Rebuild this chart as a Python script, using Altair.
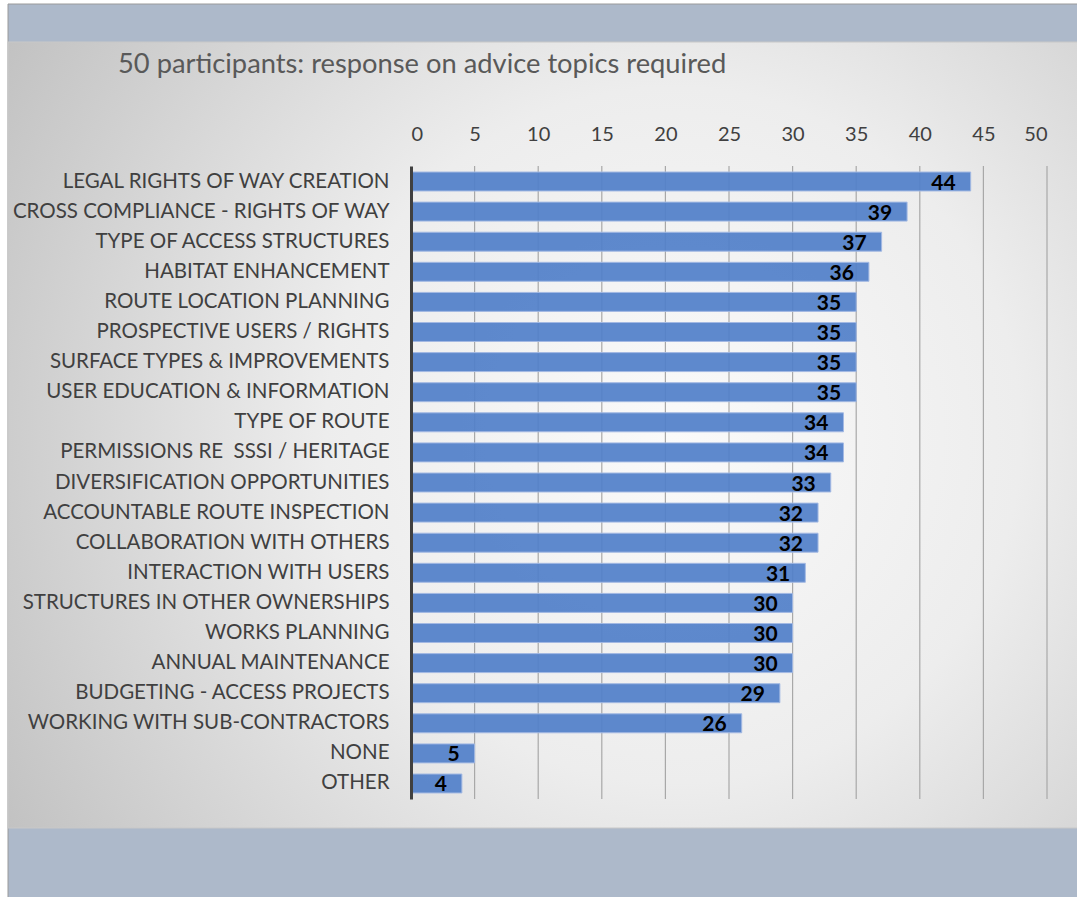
import altair as alt
import pandas as pd

categories = [
    "LEGAL RIGHTS OF WAY CREATION",
    "CROSS COMPLIANCE - RIGHTS OF WAY",
    "TYPE OF ACCESS STRUCTURES",
    "HABITAT ENHANCEMENT",
    "ROUTE LOCATION PLANNING",
    "PROSPECTIVE USERS / RIGHTS",
    "SURFACE TYPES & IMPROVEMENTS",
    "USER EDUCATION & INFORMATION",
    "TYPE OF ROUTE",
    "PERMISSIONS RE\u00a0 SSSI / HERITAGE\u00a0",
    "DIVERSIFICATION OPPORTUNITIES",
    "ACCOUNTABLE ROUTE INSPECTION",
    "COLLABORATION WITH OTHERS",
    "INTERACTION WITH USERS",
    "STRUCTURES IN OTHER OWNERSHIPS",
    "WORKS PLANNING",
    "ANNUAL MAINTENANCE",
    "BUDGETING - ACCESS PROJECTS",
    "WORKING WITH SUB-CONTRACTORS",
    "NONE",
    "OTHER",
]
values = [44, 39, 37, 36, 35, 35, 35, 35, 34, 34, 33, 32, 32, 31, 30, 30, 30, 29, 26, 5, 4]
x_ticks = [0, 5, 10, 15, 20, 25, 30, 35, 40, 45, 50]
title_text = "50 participants: response on advice topics required"

df = pd.DataFrame({"topic": categories, "count": values})
grid_df = pd.DataFrame({"tick": x_ticks[1:]})
one = pd.DataFrame({"a": [0]})

FONT = "Lato"
XSCALE = alt.Scale(domain=[0, 50], nice=False)

band = alt.Chart(one).mark_rect(color="#ADB9CA", stroke="#9A9A9A", strokeWidth=1).encode(
    x=alt.value(-403), x2=alt.value(670), y=alt.value(-162), y2=alt.value(735)
)

grad = alt.Chart(one).mark_rect(
    fill={
        "gradient": "radial",
        "x1": 0.62, "y1": 0.5, "r1": 0,
        "x2": 0.62, "y2": 0.5, "r2": 0.72,
        "stops": [
            {"offset": 0, "color": "#FAFAFA"},
            {"offset": 0.45, "color": "#EDEDED"},
            {"offset": 1, "color": "#C2C2C2"},
        ],
    },
    stroke="#C8C8C8",
    strokeWidth=1,
).encode(x=alt.value(-403), x2=alt.value(670), y=alt.value(-124), y2=alt.value(662))

title = alt.Chart(one).mark_text(
    text=title_text, align="left", baseline="middle",
    font=FONT, fontSize=27.3, color="#595959",
).encode(x=alt.value(-293), y=alt.value(-101))

gridlines = alt.Chart(grid_df).mark_rule(color="#A8A8A8", strokeWidth=1.2).encode(
    x=alt.X("tick:Q", scale=XSCALE, title=None)
)

y_enc = alt.Y(
    "topic:N",
    sort=categories,
    title=None,
    scale=alt.Scale(paddingInner=0.37, paddingOuter=0.2),
    axis=alt.Axis(
        domain=True, domainColor="#404040", domainWidth=3,
        ticks=False, tickSize=0, grid=False, zindex=1,
        labelPadding=22, labelFont=FONT, labelFontSize=20.5, labelColor="#404040",
        labelLimit=500,
    ),
)
x_enc = alt.X(
    "count:Q",
    title=None,
    scale=XSCALE,
    axis=alt.Axis(
        orient="top", values=x_ticks, domain=False, ticks=False, tickSize=0,
        grid=False, zindex=1,
        labelPadding=22, labelFont=FONT, labelFontSize=20, labelColor="#404040",
    ),
)

bars = alt.Chart(df).mark_bar(
    color="#5280C9", fillOpacity=0.93, stroke="#A3B9E3", strokeWidth=1
).encode(x=x_enc, y=y_enc)
labels = alt.Chart(df).mark_text(
    align="right", baseline="middle", dx=-15, dy=2,
    font=FONT, fontSize=21, fontWeight="bold", color="#000000",
).encode(x="count:Q", y=alt.Y("topic:N", sort=categories), text="count:Q")

chart = alt.layer(band, grad, title, gridlines, bars, labels).properties(
    width=636,
    height=633,
    padding={"left": 411, "top": 166, "right": 30, "bottom": 98},
    autosize=alt.AutoSizeParams(type="none"),
    background="#FFFFFF",
).configure_view(stroke=None)

chart.save("out.html", embed_options={"renderer": "svg", "actions": False})
